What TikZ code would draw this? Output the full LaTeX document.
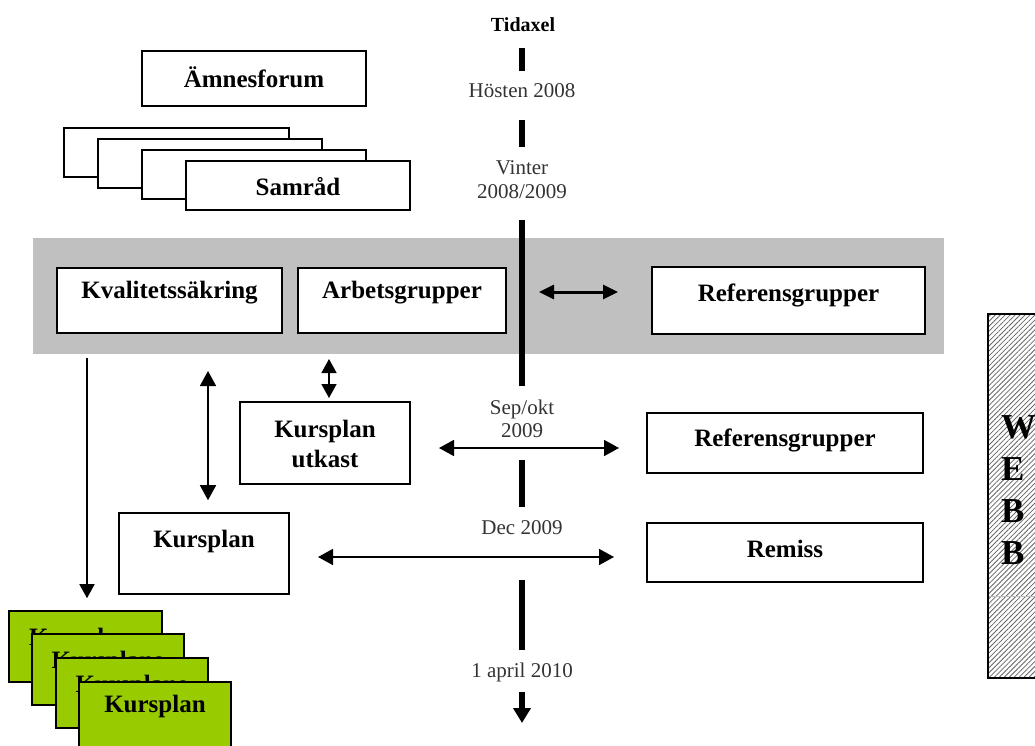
\documentclass[tikz,border=0pt]{standalone}
\usepackage{fontspec}
\setmainfont{Liberation Serif}
\usetikzlibrary{arrows.meta,patterns.meta}
\definecolor{bandgray}{RGB}{192,192,192}
\definecolor{kgreen}{RGB}{153,204,0}
\begin{document}
\begin{tikzpicture}[x=1pt,y=-1pt,
  box/.style={draw=black,line width=1.6pt,fill=white,inner sep=0pt},
  gbox/.style={box,fill=kgreen},
  btxt/.style={font=\fontsize{25}{30}\selectfont\bfseries,inner sep=0pt,align=center},
  ltxt/.style={font=\fontsize{21}{24}\selectfont,text=black!80,inner sep=0pt,align=center},
  tbar/.style={line width=6pt},
  con/.style={line width=1.6pt,-{Triangle[length=14pt,width=15pt]}},
  dcon/.style={line width=1.6pt,{Triangle[length=15pt,width=16pt]}-{Triangle[length=15pt,width=16pt]}},
]
\path[use as bounding box] (0,0) rectangle (1035,746);
\clip (0,0) rectangle (1035,746);

% gray band
\node[fill=bandgray,inner sep=0pt,minimum width=911pt,minimum height=116pt] (band) at (488.5,296) {};

% time axis
\node[font=\fontsize{20}{24}\selectfont\bfseries,inner sep=0pt] (tid) at (523,25) {Tidaxel};
\draw[tbar] (522,48) -- (522,71);
\node[ltxt] (hosten) at (522,91) {Hösten 2008};
\draw[tbar] (522,120) -- (522,147);
\node[ltxt] (vinter) at (522,180) {Vinter\\2008/2009};
\draw[tbar] (522,220) -- (522,386);
\node[ltxt,font=\fontsize{21}{23}\selectfont] (sepokt) at (522,419) {Sep/okt\\2009};
\draw[tbar] (522,460) -- (522,507);
\node[ltxt] (dec) at (522,528) {Dec 2009};
\draw[tbar] (522,580) -- (522,650);
\node[ltxt] (april) at (522,672) {1 april 2010};
\draw[line width=6pt,-{Triangle[length=15pt,width=17pt]}] (522,692) -- (522,723);

% top boxes
\node[box,minimum width=224pt,minimum height=55pt] (amnes) at (254,78.5) {};
\node[btxt] (amnestxt) at (254,77) {Ämnesforum};
\node[box,minimum width=225pt,minimum height=49pt] (sam1) at (176.5,152.5) {};
\node[box,minimum width=224pt,minimum height=49pt] (sam2) at (210,163.5) {};
\node[box,minimum width=224pt,minimum height=49pt] (sam3) at (254,174.5) {};
\node[box,minimum width=224pt,minimum height=49pt] (sam4) at (298,185.5) {};
\node[btxt] (samtxt) at (298,187) {Samråd};

% band boxes
\node[box,minimum width=225pt,minimum height=65pt] (kval) at (169.5,300.5) {};
\node[btxt] (kvaltxt) at (169.5,293) {Kvalitetssäkring};
\node[box,minimum width=208pt,minimum height=65pt] (arb) at (402,300.5) {};
\node[btxt] (arbtxt) at (402,293) {Arbetsgrupper};
\node[box,minimum width=273pt,minimum height=67pt] (ref1) at (788.5,300.5) {};
\node[btxt] (ref1txt) at (788.5,295) {Referensgrupper};

% lower boxes
\node[box,minimum width=170pt,minimum height=82pt] (utkast) at (325,443) {};
\node[btxt] (utkasttxt) at (325,444) {Kursplan\\utkast};
\node[box,minimum width=276pt,minimum height=60pt] (ref2) at (785,443) {};
\node[btxt] (ref2txt) at (785,440) {Referensgrupper};
\node[box,minimum width=170pt,minimum height=81pt] (kurs) at (204,553.5) {};
\node[btxt] (kurstxt) at (204,541) {Kursplan};
\node[box,minimum width=276pt,minimum height=59pt] (remiss) at (785,552.5) {};
\node[btxt] (remisstxt) at (785,549) {Remiss};

% WEBB box
\node[draw=black,line width=1.6pt,inner sep=0pt,minimum width=62pt,minimum height=364pt,
      preaction={fill=white},pattern={Lines[angle=45,distance=3.5pt,line width=0.8pt]},pattern color=black!60]
      (webb) at (1019,496) {};
\draw[black!25,line width=0.5pt] (989,596) -- (1035,596);
\node[font=\fontsize{35}{42}\selectfont\bfseries,inner sep=0pt,align=left,anchor=west] (webbtxt) at (1001,490) {W\\E\\B\\B};

% green stack
\node[gbox,minimum width=153pt,minimum height=71pt] (g1) at (85.5,646.5) {};
\node[btxt] (g1txt) at (85.5,639.5) {Kursplane};
\node[gbox,minimum width=152pt,minimum height=71pt] (g2) at (108,669.5) {};
\node[btxt] (g2txt) at (108,662.5) {Kursplane};
\node[gbox,minimum width=152pt,minimum height=70pt] (g3) at (132,693) {};
\node[btxt] (g3txt) at (132,686.5) {Kursplane};
\node[gbox,minimum width=152pt,minimum height=71pt] (g4) at (155,717.5) {};
\node[btxt] (g4txt) at (155,706) {Kursplan};

% connectors
\coordinate (ba1) at (539,292);
\coordinate (ba2) at (618,292);
\draw[line width=3pt,{Triangle[length=15pt,width=14pt]}-{Triangle[length=15pt,width=14pt]}] (ba1) -- (ba2);

\coordinate (sa1) at (439,448);
\coordinate (sa2) at (619,448);
\draw[dcon] (sa1) -- (sa2);

\coordinate (da1) at (318,557);
\coordinate (da2) at (614,557);
\draw[dcon] (da1) -- (da2);

\coordinate (ua1) at (329,359);
\coordinate (ua2) at (329,398);
\draw[line width=1.6pt,{Triangle[length=14pt,width=15pt]}-{Triangle[length=14pt,width=15pt]}] (ua1) -- (ua2);

\coordinate (ka) at (208,371);
\draw[dcon] (ka) -- ([yshift=12pt]ka |- kurs.north);

\coordinate (la) at (87,358);
\draw[con] (la) -- ([yshift=12pt]la |- g1.north);
\end{tikzpicture}
\end{document}
